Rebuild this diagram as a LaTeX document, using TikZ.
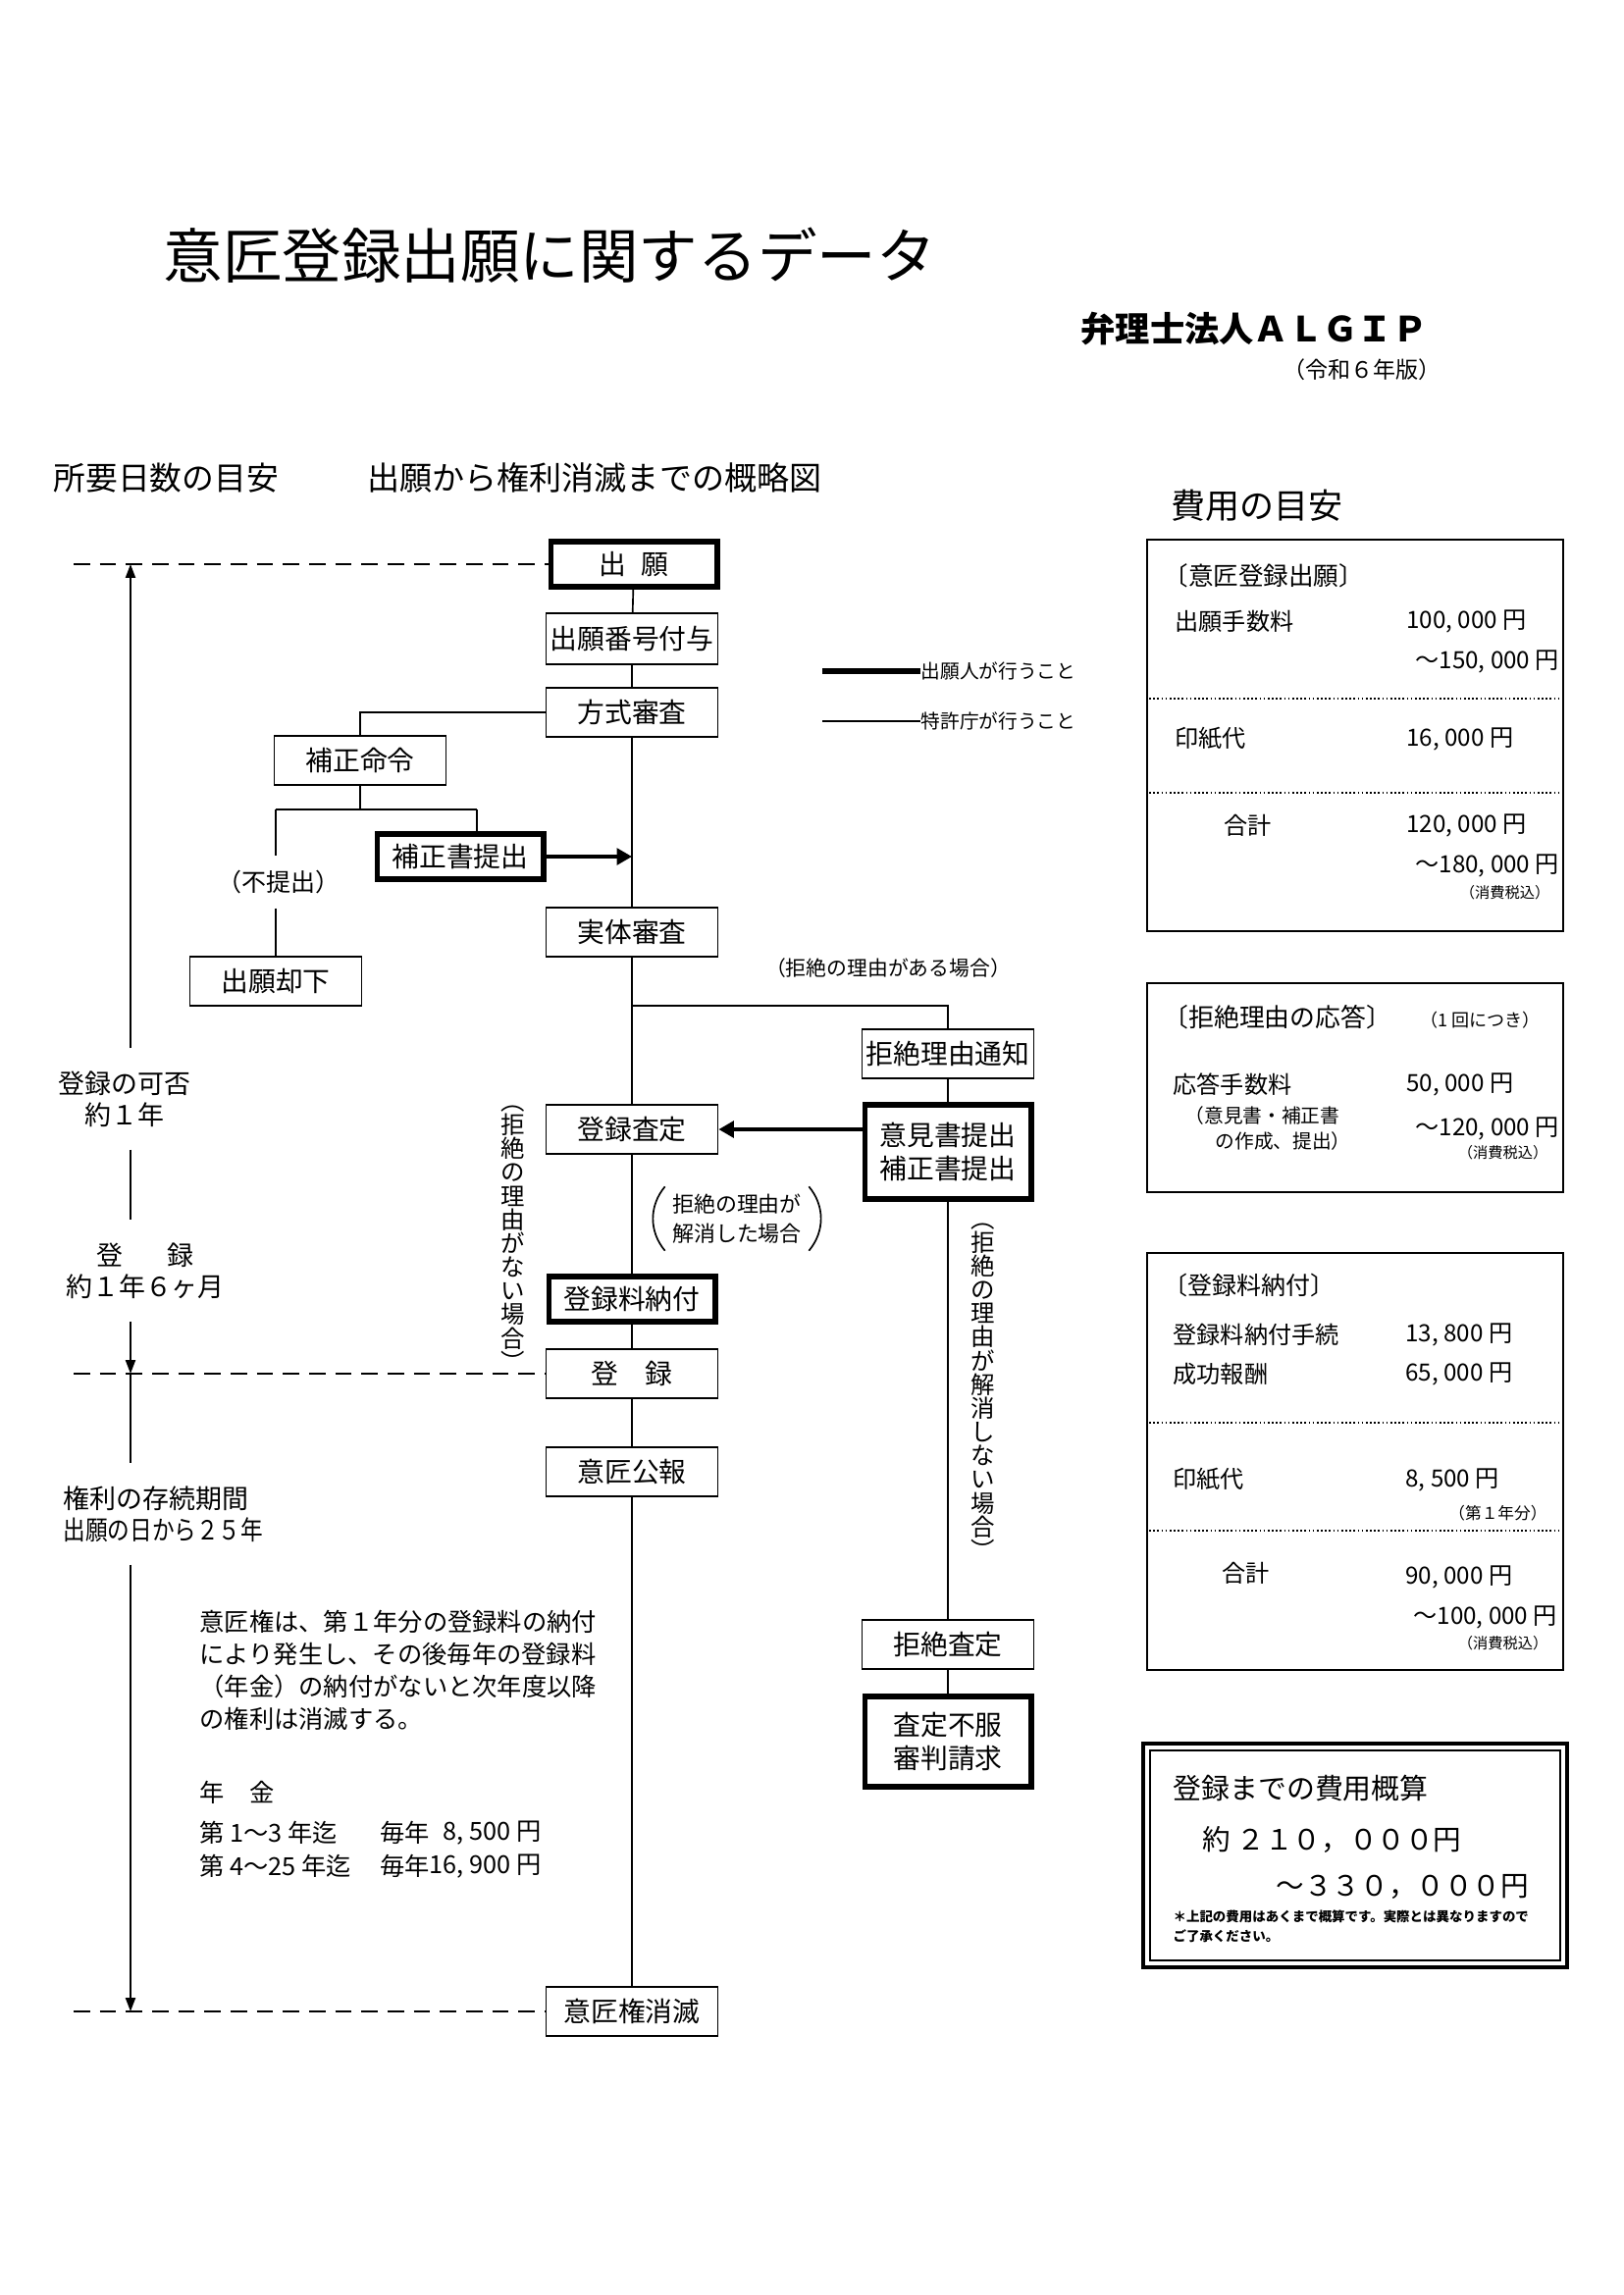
\documentclass[tikz,border=0pt]{standalone}
\usepackage{fontspec}
\usepackage{graphicx}
\setmainfont{Noto Sans CJK JP}
\usetikzlibrary{arrows.meta}
\newcommand{\fsz}[2]{\fontsize{#1}{#2}\selectfont\lineskiplimit=-20pt\relax}
\tikzset{
  box/.style={draw, line width=0.7pt, minimum width=63pt, minimum height=18pt, inner sep=0pt, font=\fsz{10}{12.2}, align=center},
  tbox/.style={draw, line width=2pt, minimum width=61pt, minimum height=16.7pt, inner sep=0pt, font=\fsz{10}{12.2}, align=center},
  conn/.style={line width=0.6pt},
  dline/.style={line width=0.8pt, dash pattern=on 6pt off 3.6pt},
  bigarrow/.style={line width=1.2pt, -{Triangle[length=5.5pt,width=6pt]}},
  tarrow/.style={line width=0.7pt, -{Triangle[length=5pt,width=3.6pt]}},
  costbox/.style={draw, line width=0.9pt},
  dots/.style={line width=0.5pt, dash pattern=on 0.6pt off 0.9pt},
  txt/.style={inner sep=0pt, anchor=west},
  rtxt/.style={inner sep=0pt, anchor=east},
  item/.style={txt, font=\fsz{8.7}{10}},
  amt/.style={txt, font=\fsz{8.7}{10}},
  tax/.style={rtxt, font=\fsz{5.5}{6}},
  hdr/.style={txt, font=\fsz{9.2}{10}},
  vtxt/.style={inner sep=0pt, align=center, font=\fsz{8.8}{8.7}},
  tl/.style={inner sep=0pt, align=center, font=\fsz{9.7}{11.5}, minimum height=36.7pt},
  paren/.style={line width=0.6pt}
}
\begin{document}
\begin{tikzpicture}[x=0.36pt,y=-0.36pt]
\useasboundingbox (0,0) rectangle (1654,2339);

% ---- headings
\node[txt, font=\fsz{21.8}{26}] (title) at (166,260) {意匠登録出願に関するデータ};
\node[txt, font=\bfseries\fsz{12.7}{14}] (firm) at (1101,335) {弁理士法人ＡＬＧＩＰ};
\node[txt, font=\fsz{8.3}{10}] (year) at (1307,377) {（令和６年版）};
\node[txt, font=\fsz{11.8}{14}] (h1) at (54,487) {所要日数の目安};
\node[txt, font=\fsz{11.9}{14}] (h2) at (374,487) {出願から権利消滅までの概略図};
\node[txt, font=\fsz{12.6}{14}] (h3) at (1193,515) {費用の目安};

% ---- legend
\coordinate (lg1) at (838,684);
\node[txt, font=\fsz{7.1}{8}] (lg1t) at (938,684) {出願人が行うこと};
\draw[line width=2.3pt] (lg1) -- (lg1t.west);
\coordinate (lg2) at (838,735);
\node[txt, font=\fsz{7.1}{8}] (lg2t) at (938,735) {特許庁が行うこと};
\draw[line width=0.5pt] (lg2) -- (lg2t.west);

% ---- central flow
\node[tbox] (shutsugan) at (646,575) {出\hspace{0.55em}願};
\node[box, minimum height=18.7pt] (bango) at (644,651) {出願番号付与};
\node[box] (hoshiki) at (644,726) {方式審査};
\node[box] (hoseimeirei) at (367,775) {補正命令};
\node[tbox] (hoseisho) at (469,873) {補正書提出};
\node[inner sep=0pt, minimum height=18.7pt, font=\fsz{9}{10}] (futei) at (284,899) {（不提出）};
\node[box] (kyakka) at (281,1000) {出願却下};
\node[box] (jittai) at (644,950) {実体審査};
\node[inner sep=0pt, font=\fsz{7.5}{9}] (aru) at (905,987) {（拒絶の理由がある場合）};
\node[box] (kyotsuchi) at (966,1074) {拒絶理由通知};
\node[box] (tourokusatei) at (644,1151) {登録査定};
\node[tbox, minimum height=34.7pt] (iken) at (966,1174) {意見書提出\\補正書提出};
\node[tbox] (ryoukin) at (644,1324) {登録料納付};
\node[box] (touroku) at (644,1400) {登\hspace{1em}録};
\node[box] (kouhou) at (644,1500) {意匠公報};
\node[box] (shoumetsu) at (644,2050) {意匠権消滅};
\node[box] (kyosatei) at (966,1676) {拒絶査定};
\node[tbox, minimum height=33.3pt] (shinpan) at (966,1775) {査定不服\\審判請求};

\foreach \a/\b in {shutsugan/bango, bango/hoshiki, hoshiki/jittai, jittai/tourokusatei,
  tourokusatei/ryoukin, ryoukin/touroku, touroku/kouhou, kouhou/shoumetsu,
  kyotsuchi/iken, iken/kyosatei, kyosatei/shinpan}
  \draw[conn] (\a) -- (\b);

\draw[conn] (hoshiki.west) -| (hoseimeirei.north);
\coordinate (brL) at (281,825);
\coordinate (brR) at (486,825);
\draw[conn] (hoseimeirei.south) -- (hoseimeirei.south |- brL);
\draw[conn] (brL) -- (brR);
\draw[conn] (brR) -- (brR |- hoseisho.north);
\draw[conn] (brL) -- (brL |- futei.north);
\draw[conn] (brL |- futei.south) -- (kyakka.north);
\draw[bigarrow] (hoseisho.east) -- (hoseisho.east -| jittai.north);

\coordinate (jb) at (644,1025);
\draw[conn] (jb) -| (kyotsuchi.north);
\draw[bigarrow] (tourokusatei.east -| iken.west) -- (tourokusatei.east);

% ---- condition labels
\node[vtxt] (v1) at (523,1262) {︵\\拒\\絶\\の\\理\\由\\が\\な\\い\\場\\合\\︶};
\node[vtxt] (v2) at (1002,1418) {︵\\拒\\絶\\の\\理\\由\\が\\解\\消\\し\\な\\い\\場\\合\\︶};
\node[inner xsep=5.5pt, inner ysep=2.5pt, align=left, font=\fsz{7.9}{10.8}] (kaisho) at (751,1242)
  {拒絶の理由が\\解消した場合};
\draw[paren] ([xshift=3pt]kaisho.north west) to[bend right=40] ([xshift=3pt]kaisho.south west);
\draw[paren] ([xshift=-3pt]kaisho.north east) to[bend left=40] ([xshift=-3pt]kaisho.south east);

% ---- left timeline
\coordinate (t0) at (133,575);
\node[tl] (L1) at (127,1120) {登録の可否\\約１年};
\node[tl] (L2) at (148,1295) {登\hspace{1.7em}録\\約１年６ヶ月};
\node[tl, align=left, anchor=west] (L3) at (64,1543) {権利の存続期間\\\scalebox{0.84}[1]{出願の日から２５年}};
\coordinate (t1) at (133,1400);
\coordinate (t2) at (133,2050);
\draw[tarrow] (t0 |- L1.north) -- (t0);
\draw[conn, line width=0.7pt] (t0 |- L1.south) -- (t0 |- L2.north);
\draw[tarrow] (t0 |- L2.south) -- (t1);
\draw[conn, line width=0.7pt] (t1) -- (t0 |- L3.north);
\draw[tarrow] (t0 |- L3.south) -- (t2);

\coordinate (d1) at (75,575);
\coordinate (d2) at (75,1400);
\coordinate (d3) at (75,2050);
\draw[dline] (d1) -- (shutsugan.west);
\draw[dline] (d2) -- (touroku.west);
\draw[dline] (d3) -- (shoumetsu.west);

% ---- body text
\node[txt, align=left, font=\fsz{9.1}{11.9}] (body) at (203,1702)
  {意匠権は、第１年分の登録料の納付\\により発生し、その後毎年の登録料\\（年金）の納付がないと次年度以降\\の権利は消滅する。};
\node[txt, font=\fsz{9.1}{11}] (nenkin) at (203,1827) {年　金};
\node[txt, font=\fsz{9.1}{11}] (n1a) at (203,1868) {第 1～3 年迄};
\node[txt, font=\fsz{9.1}{11}] (n1b) at (387,1868) {毎年};
\node[rtxt, font=\fsz{9.1}{11}] (n1c) at (552,1868) {8, 500 円};
\node[txt, font=\fsz{9.1}{11}] (n2a) at (203,1902) {第 4～25 年迄};
\node[txt, font=\fsz{9.1}{11}] (n2b) at (387,1902) {毎年};
\node[rtxt, font=\fsz{9.1}{11}] (n2c) at (552,1902) {16, 900 円};

% ---- cost box 1
\draw[costbox] (1169,550) rectangle (1593,949);
\node[hdr] (c1h) at (1185,587) {〔意匠登録出願〕};
\node[item] (c1a) at (1197,633) {出願手数料};
\node[amt] (c1b) at (1433,633) {100, 000 円};
\node[amt] (c1c) at (1442,674) {～150, 000 円};
\draw[dots] (1171,712) -- (1591,712);
\node[item] (c1d) at (1197,753) {印紙代};
\node[amt] (c1e) at (1433,753) {16, 000 円};
\draw[dots] (1171,808) -- (1591,808);
\node[item] (c1f) at (1247,841) {合計};
\node[amt] (c1g) at (1433,841) {120, 000 円};
\node[amt] (c1i) at (1442,882) {～180, 000 円};
\node[tax] (c1j) at (1580,910) {（消費税込）};

% ---- cost box 2
\draw[costbox] (1169,1002) rectangle (1593,1215);
\node[hdr, font=\fsz{9.3}{10}] (c2h) at (1185,1037) {〔拒絶理由の応答〕};
\node[rtxt, font=\fsz{6.5}{7}] (c2k) at (1570,1040) {（1 回につき）};
\node[item] (c2a) at (1195,1105) {応答手数料};
\node[txt, font=\fsz{7.1}{8}] (c2b) at (1207,1137) {（意見書・補正書};
\node[txt, font=\fsz{7.1}{8}] (c2c) at (1238,1163) {の作成、提出）};
\node[amt] (c2d) at (1433,1105) {50, 000 円};
\node[amt] (c2e) at (1442,1150) {～120, 000 円};
\node[tax] (c2f) at (1578,1175) {（消費税込）};

% ---- cost box 3
\draw[costbox] (1169,1277) rectangle (1593,1702);
\node[hdr, font=\fsz{9}{10}] (c3h) at (1185,1310) {〔登録料納付〕};
\node[item] (c3a) at (1195,1360) {登録料納付手続};
\node[amt] (c3b) at (1432,1360) {13, 800 円};
\node[item] (c3c) at (1195,1400) {成功報酬};
\node[amt] (c3d) at (1432,1400) {65, 000 円};
\draw[dots] (1171,1450) -- (1591,1450);
\node[item] (c3e) at (1195,1508) {印紙代};
\node[amt] (c3f) at (1432,1508) {8, 500 円};
\node[rtxt, font=\fsz{6}{7}] (c3g) at (1577,1542) {（第１年分）};
\draw[dots] (1171,1560) -- (1591,1560);
\node[item] (c3i) at (1245,1603) {合計};
\node[amt] (c3j) at (1432,1607) {90, 000 円};
\node[amt] (c3k) at (1440,1648) {～100, 000 円};
\node[tax] (c3l) at (1578,1675) {（消費税込）};

% ---- cost box 4
\draw[line width=1.3pt] (1165,1777) rectangle (1597,2005);
\draw[line width=0.7pt] (1172,1784) rectangle (1590,1998);
\node[txt, font=\fsz{10.4}{12}] (c4a) at (1195,1822) {登録までの費用概算};
\node[txt, font=\fsz{10.3}{12}] (c4b) at (1225,1875) {約 ２１０，０００円};
\node[txt, font=\fsz{10.3}{12}] (c4c) at (1300,1923) {～３３０，０００円};
\node[txt, font=\bfseries\fsz{4.85}{6}] (c4d) at (1195,1953) {＊上記の費用はあくまで概算です。実際とは異なりますので};
\node[txt, font=\bfseries\fsz{4.85}{6}] (c4e) at (1195,1973) {ご了承ください。};
\end{tikzpicture}
\end{document}
